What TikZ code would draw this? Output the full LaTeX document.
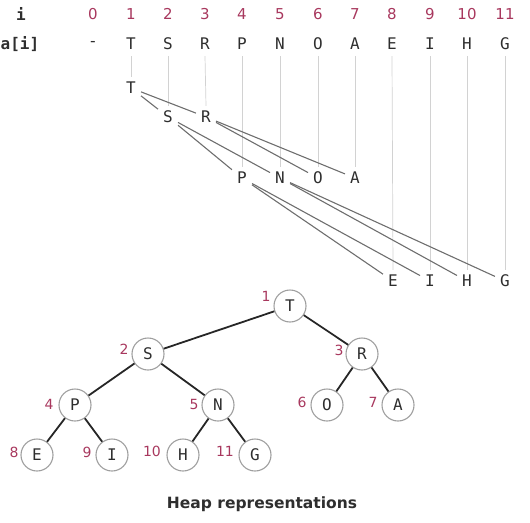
\documentclass[tikz,border=0pt]{standalone}
\usepackage{fontspec}
\setmainfont{DejaVu Sans}
\newfontfamily\keyfont{DejaVu Sans Mono}
\newfontfamily\numfont{DejaVu Sans}
\definecolor{idxred}{HTML}{A8385E}
\definecolor{ink}{HTML}{2E2E2E}
\definecolor{guide}{HTML}{D2D2D2}
\definecolor{link}{HTML}{6E6E6E}
\begin{document}
\begin{tikzpicture}[x=1pt,y=-1pt,
  idx/.style={text=idxred,font=\numfont\fontsize{15}{15}\selectfont,inner sep=0pt},
  key/.style={text=ink,font=\keyfont\fontsize{16}{16}\selectfont,inner sep=1pt},
  lvl/.style={text=ink,font=\keyfont\fontsize{16}{16}\selectfont,inner sep=5pt},
  guideline/.style={draw=guide,line width=0.7pt},
  levellink/.style={draw=link,line width=1.1pt},
  heapnode/.style={circle,draw=gray!75,line width=1.1pt,minimum size=32pt,inner sep=0pt,
    text=ink,font=\keyfont\fontsize{16}{16}\selectfont},
  heapedge/.style={draw=black!85,line width=1.8pt},
  tidx/.style={text=idxred,font=\numfont\fontsize{14}{14}\selectfont,inner sep=0pt}]
\useasboundingbox (0,0) rectangle (530,522);

% array header
\node[text=ink,font=\keyfont\bfseries\fontsize{16}{16}\selectfont] (hi) at (21,14) {i};
\node[text=ink,font=\keyfont\bfseries\fontsize{16}{16}\selectfont] (ha) at (20,44) {a[i]};
\foreach \k/\x in {0/93,1/131,2/168,3/205,4/242,5/280,6/318,7/355,8/392,9/430,10/467,11/505}
  \node[idx] (i\k) at (\x,14) {\k};
\node[key] (a0) at (93,44) {-};
\foreach \k/\x/\c in {1/131/T,2/168/S,3/205/R,4/242/P,5/280/N,6/318/O,7/355/A,8/392/E,9/430/I,10/467/H,11/505/G}
  \node[key] (a\k) at (\x,44) {\c};

% level layout
\node[lvl] (l1) at (131,88) {T};
\foreach \k/\x/\c in {2/168/S,3/206/R}
  \node[lvl] (l\k) at (\x,117) {\c};
\foreach \k/\x/\c in {4/242/P,5/280/N,6/318/O,7/355/A}
  \node[lvl] (l\k) at (\x,178) {\c};
\foreach \k/\x/\c in {8/393/E,9/430/I,10/467/H,11/505/G}
  \node[lvl] (l\k) at (\x,281) {\c};

% guides from array entries down to the level layout
\foreach \k in {1,...,11}
  \draw[guideline] (a\k.south) ++(0,5) -- (l\k.north);

% parent-child links in the level layout
\foreach \p/\c in {1/2,1/3,2/4,2/5,3/6,3/7,4/8,4/9,5/10,5/11}
  \draw[levellink] (l\p) -- (l\c);

% heap as a tree
\node[heapnode] (t1) at (290,306) {T};
\node[heapnode] (t2) at (148,354) {S};
\node[heapnode] (t3) at (362,354) {R};
\node[heapnode] (t4) at (75,405) {P};
\node[heapnode] (t5) at (218,405) {N};
\node[heapnode] (t6) at (327,405) {O};
\node[heapnode] (t7) at (398,405) {A};
\node[heapnode] (t8) at (37,455) {E};
\node[heapnode] (t9) at (112,455) {I};
\node[heapnode] (t10) at (183,455) {H};
\node[heapnode] (t11) at (255,455) {G};
\foreach \p/\c in {1/2,1/3,2/4,2/5,3/6,3/7,4/8,4/9,5/10,5/11}
  \draw[heapedge] (t\p) -- (t\c);

\node[tidx] (n1) at (266,296) {1};
\node[tidx] (n2) at (124,349) {2};
\node[tidx] (n3) at (339,350) {3};
\node[tidx] (n4) at (49,404) {4};
\node[tidx] (n5) at (194,404) {5};
\node[tidx] (n6) at (302,402) {6};
\node[tidx] (n7) at (373,402) {7};
\node[tidx] (n8) at (14,452) {8};
\node[tidx] (n9) at (87,452) {9};
\node[tidx] (n10) at (152,451) {10};
\node[tidx] (n11) at (225,451) {11};

\node[text=ink,font=\bfseries\fontsize{15.5}{15.5}\selectfont] (cap) at (262,504) {Heap representations};
\end{tikzpicture}
\end{document}
